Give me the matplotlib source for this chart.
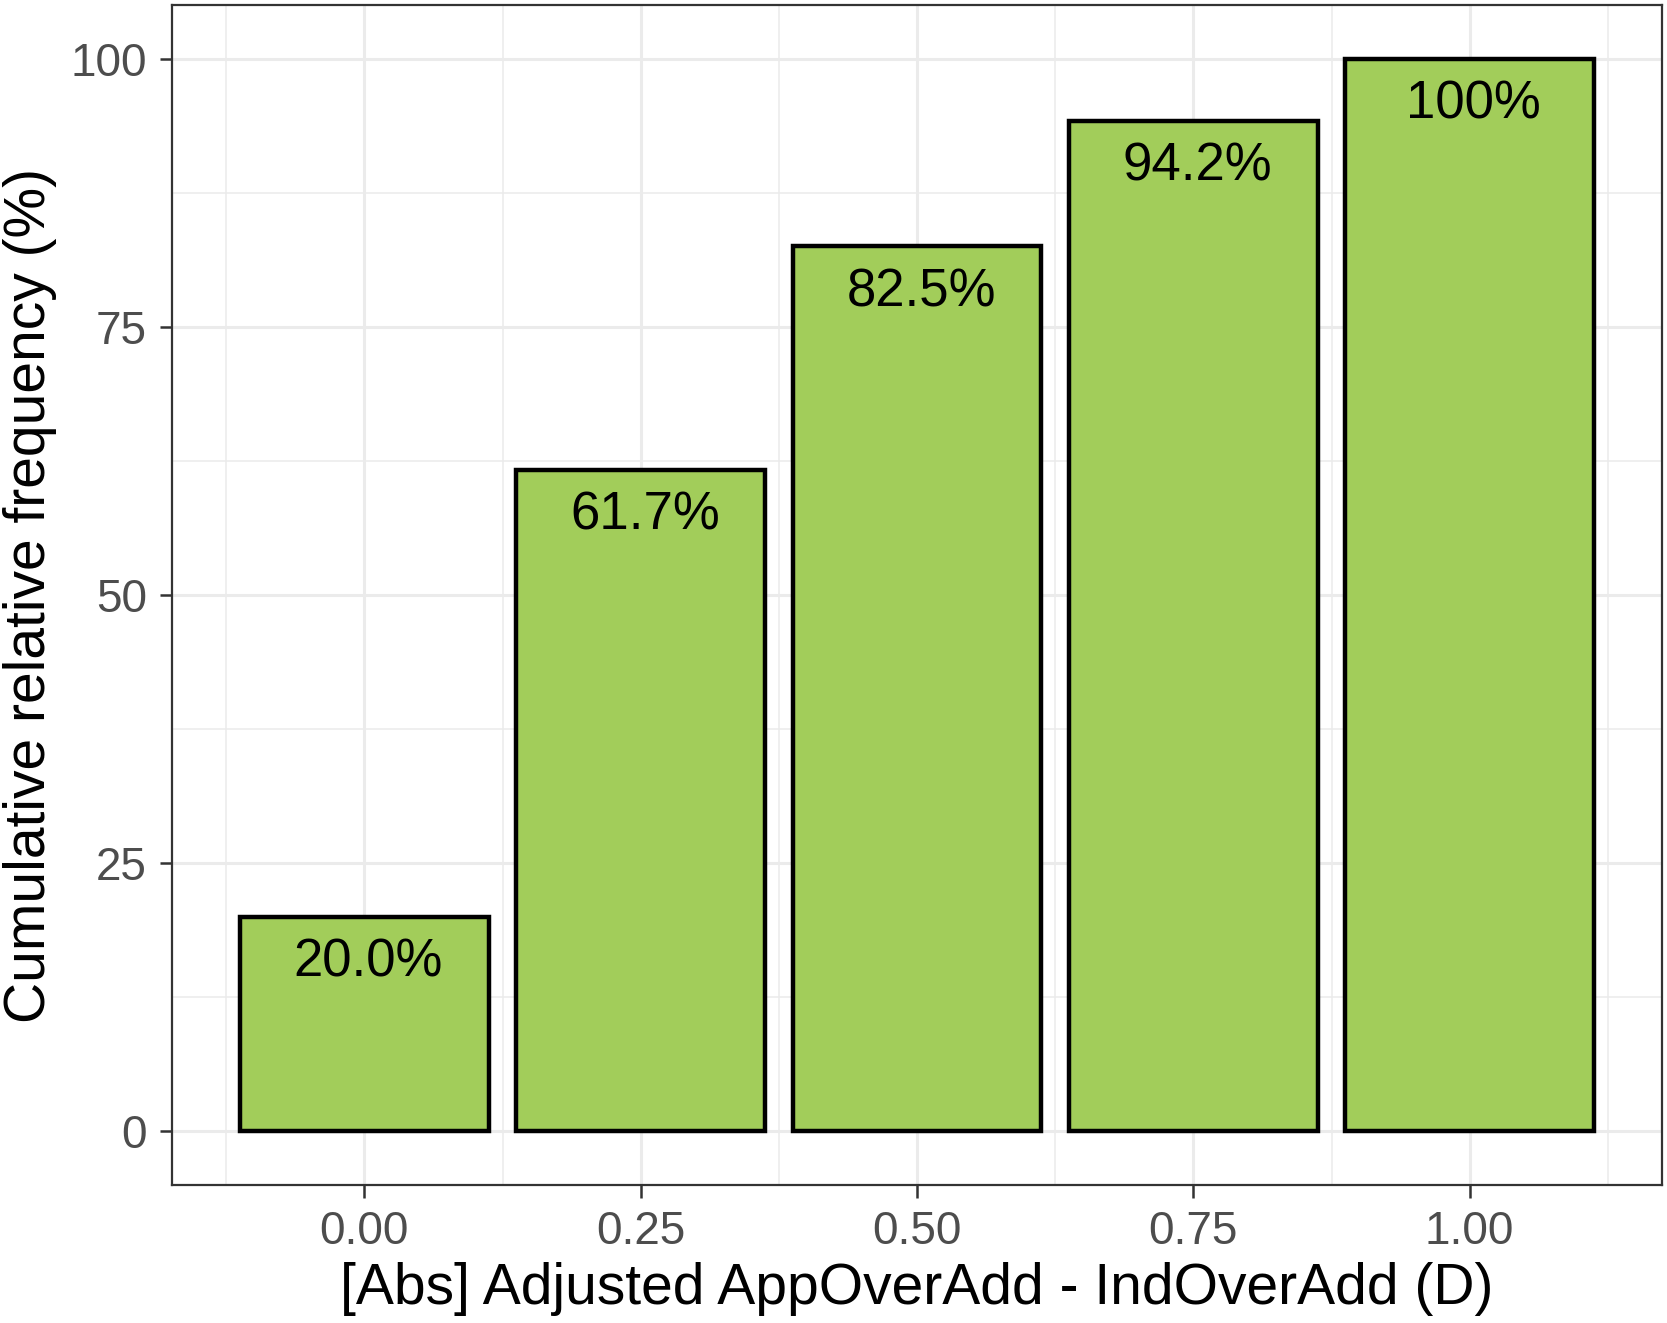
import matplotlib.pyplot as plt
import numpy as np

# Cumulative relative frequency per absolute difference
diffs = [0.00, 0.25, 0.50, 0.75, 1.00]
cum_freq = [20.0, 61.7, 82.5, 94.2, 100.0]
bar_labels = ['20.0%', '61.7%', '82.5%', '94.2%', '100%']

plt.rcParams['font.family'] = ['Liberation Sans', 'DejaVu Sans']

fig = plt.figure(figsize=(16.67, 13.23), dpi=100)
ax = fig.add_axes([0.1032, 0.1043, 0.8938, 0.8919])

bars = ax.bar(diffs, cum_freq, width=0.225, color='#A2CD5A', edgecolor='black',
              linewidth=3.2, zorder=3)

# value labels just inside the top of each bar
for rect, lab in zip(bars, bar_labels):
    ax.annotate(lab, xy=(rect.get_x() + rect.get_width() / 2, rect.get_height()),
                xytext=(3, -15), textcoords='offset points',
                ha='center', va='top', fontsize=38, color='black', zorder=4)

ax.set_xlim(-0.174, 1.174)
ax.set_ylim(-5, 105)
ax.set_xticks(diffs)
ax.set_xticklabels(['0.00', '0.25', '0.50', '0.75', '1.00'])
ax.set_yticks([0, 25, 50, 75, 100])
ax.set_xticks(np.arange(-0.125, 1.2, 0.25), minor=True)
ax.set_yticks([12.5, 37.5, 62.5, 87.5], minor=True)

ax.grid(which='major', color='#EBEBEB', linewidth=2.2, zorder=0)
ax.grid(which='minor', color='#EBEBEB', linewidth=1.1, zorder=0)
ax.set_axisbelow(True)

ax.tick_params(which='major', length=9, width=1.8, color='#333333',
               labelsize=33, labelcolor='#4D4D4D', pad=9)
ax.tick_params(which='minor', length=0)
for sp in ax.spines.values():
    sp.set_color('#333333')
    sp.set_linewidth(1.6)

ax.set_xlabel('[Abs] Adjusted AppOverAdd - IndOverAdd (D)', fontsize=41, labelpad=6)
ax.set_ylabel('Cumulative relative frequency (%)', fontsize=41, labelpad=10)

fig.savefig('out.png', dpi=100)
